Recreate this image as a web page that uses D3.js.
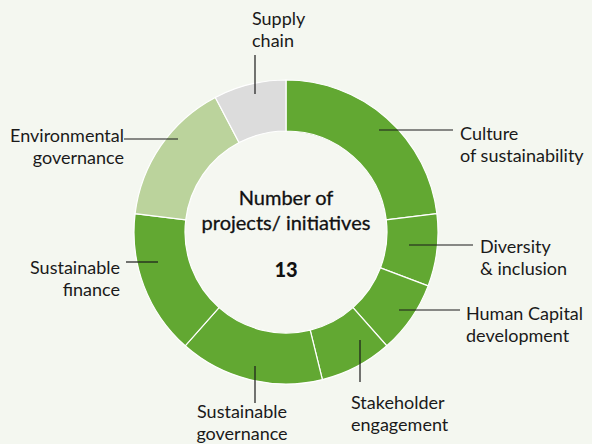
<!DOCTYPE html>
<html>
<head>
<meta charset="utf-8">
<script src="https://cdn.jsdelivr.net/npm/d3@7"></script>
<style>
	html, body { margin: 0; padding: 0; background: #f4f7f0; }
	svg { display: block; font-family: 'Lato', 'DejaVu Sans', sans-serif; }
</style>
</head>
<body>
<script>
// categories in drawing order, clockwise from 12 o'clock
const categories = [
	'Culture of sustainability',
	'Diversity & inclusion',
	'Human Capital development',
	'Stakeholder engagement',
	'Sustainable governance',
	'Sustainable finance',
	'Environmental governance',
	'Supply chain'
];
const counts = [3, 1, 1, 1, 2, 2, 2, 1];
const labelLines = [
	['Culture', 'of sustainability'],
	['Diversity', '& inclusion'],
	['Human Capital', 'development'],
	['Stakeholder', 'engagement'],
	['Sustainable', 'governance'],
	['Sustainable', 'finance'],
	['Environmental', 'governance'],
	['Supply', 'chain']
];
const centerTitle = ['Number of', 'projects/ initiatives'];
const total = d3.sum(counts);

const width = 592, height = 444;
const cx = 286, cy = 232;
const rOuter = 152, rInner = 101;

// label placement: [textX, firstBaseline, anchor, lineX1, lineY1, lineX2, lineY2]
const layout = [
	[460, 140, 'start', 379, 130, 453, 130],
	[480, 253, 'start', 409, 245, 473, 245],
	[466, 320, 'start', 399, 310, 460, 310],
	[351, 409, 'start', 360, 340, 360, 382],
	[242, 418, 'middle', 255, 366, 255, 403],
	[120, 274, 'end', 126, 262, 158, 262],
	[124, 142, 'end', 124, 139, 178, 139],
	[252, 25, 'start', 255, 55, 255, 94]
];

const color = d3.scaleOrdinal()
	.domain(categories)
	.range(['#62a832', '#62a832', '#62a832', '#62a832', '#62a832', '#62a832', '#bbd39c', '#dcdcdc']);

const svg = d3.select('body').append('svg')
	.attr('width', width)
	.attr('height', height);

const pie = d3.pie().sort(null).value(d => d.value);
const arcs = pie(categories.map((c, i) => ({ name: c, value: counts[i] })));
const arc = d3.arc().innerRadius(rInner).outerRadius(rOuter);

const g = svg.append('g').attr('transform', `translate(${cx},${cy})`);

g.append('circle').attr('r', rInner).style('fill', '#f5f7f1');

g.selectAll('path')
	.data(arcs)
	.enter().append('path')
	.attr('d', arc)
	.style('fill', d => color(d.data.name))
	.style('stroke', '#ffffff')
	.style('stroke-width', 1.2);

// leader lines
svg.append('g').selectAll('line')
	.data(layout)
	.enter().append('line')
	.attr('x1', d => d[3])
	.attr('y1', d => d[4])
	.attr('x2', d => d[5])
	.attr('y2', d => d[6])
	.style('stroke', '#1a1a1a')
	.style('stroke-width', 1.2);

// labels
let label = svg.append('g').selectAll('text')
	.data(labelLines)
	.enter().append('text')
	.attr('x', (d, i) => layout[i][0])
	.attr('y', (d, i) => layout[i][1])
	.attr('text-anchor', (d, i) => layout[i][2])
	.style('font-size', '18px')
	.style('fill', '#1a1a1a');

label.selectAll('tspan')
	.data((d, i) => d.map(t => ({ t, i })))
	.enter().append('tspan')
	.attr('x', d => layout[d.i][0])
	.attr('dy', (d, j) => j ? 22 : 0)
	.text(d => d.t);

// centre text
svg.append('text')
	.attr('x', cx)
	.attr('y', 205)
	.attr('text-anchor', 'middle')
	.style('font-size', '20px')
	.style('fill', '#111')
	.style('stroke', '#111')
	.style('stroke-width', 0.3)
	.selectAll('tspan')
	.data(centerTitle)
	.enter().append('tspan')
	.attr('x', cx)
	.attr('dy', (d, i) => i ? 25 : 0)
	.text(d => d);

svg.append('text')
	.attr('x', cx)
	.attr('y', 277)
	.attr('text-anchor', 'middle')
	.style('font-size', '20px')
	.style('font-weight', 900)
	.style('fill', '#111')
	.text(total);
</script>
</body>
</html>
